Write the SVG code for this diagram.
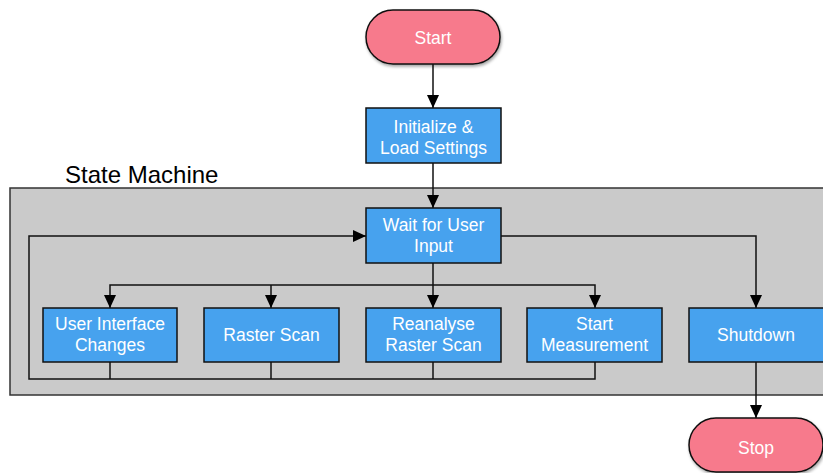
<svg xmlns="http://www.w3.org/2000/svg" width="823" height="473" viewBox="0 0 823 473">
  <style>
    .term { fill: #F77A8C; stroke: #111; stroke-width: 1.5; }
    .proc { fill: #47A2EE; stroke: #111; stroke-width: 1.5; }
    .group { fill: #CACACA; stroke: #333; stroke-width: 1.5; }
    .lbl { font-family: "Liberation Sans", Arial, sans-serif; font-size: 17.5px; fill: #fff; text-anchor: middle; }
    .title { font-family: "Liberation Sans", Arial, sans-serif; font-size: 24px; fill: #000; }
    .wire { fill: none; stroke: #111; stroke-width: 1.5; }
  </style>
  <defs>
    <marker id="arrow" viewBox="0 0 13 12" refX="13" refY="6" markerWidth="13" markerHeight="12" markerUnits="userSpaceOnUse" orient="auto">
      <path d="M0,0 L13,6 L0,12 Z" fill="#000"/>
    </marker>
    <filter id="shadow" x="-10%" y="-10%" width="130%" height="140%">
      <feDropShadow dx="1" dy="2" stdDeviation="1.5" flood-color="#000" flood-opacity="0.35"/>
    </filter>
  </defs>

  <rect width="823" height="473" fill="#fff"/>

  <!-- State machine container -->
  <g id="state-machine">
    <rect class="group" x="10" y="188" width="830" height="207"/>
    <text class="title" x="65" y="183">State Machine</text>
  </g>

  <!-- Connectors -->
  <g id="connectors">
    <line class="wire" x1="433" y1="64" x2="433" y2="108" marker-end="url(#arrow)"/>
    <line class="wire" x1="433" y1="163" x2="433" y2="208" marker-end="url(#arrow)"/>
    <!-- Wait -> fan-out to states -->
    <line class="wire" x1="433" y1="263" x2="433" y2="308" marker-end="url(#arrow)"/>
    <polyline class="wire" points="433,285 110,285 110,308" marker-end="url(#arrow)"/>
    <line class="wire" x1="271" y1="285" x2="271" y2="308" marker-end="url(#arrow)"/>
    <polyline class="wire" points="433,285 595,285 595,308" marker-end="url(#arrow)"/>
    <!-- Wait -> Shutdown -->
    <polyline class="wire" points="501,236 756,236 756,308" marker-end="url(#arrow)"/>
    <!-- Return loop back to Wait -->
    <line class="wire" x1="110" y1="362" x2="110" y2="379"/>
    <line class="wire" x1="271" y1="362" x2="271" y2="379"/>
    <line class="wire" x1="433" y1="362" x2="433" y2="379"/>
    <polyline class="wire" points="595,362 595,379 29,379 29,236 366,236" marker-end="url(#arrow)"/>
    <!-- Shutdown -> Stop -->
    <line class="wire" x1="756" y1="362" x2="756" y2="418" marker-end="url(#arrow)"/>
  </g>

  <g id="start">
    <rect class="term" x="366" y="10" width="134" height="54" rx="27" filter="url(#shadow)"/>
    <text class="lbl" x="433" y="44">Start</text>
  </g>

  <g id="init">
    <rect class="proc" x="366" y="108" width="135" height="55"/>
    <text class="lbl" x="433.5" y="133">Initialize &amp;</text>
    <text class="lbl" x="433.5" y="154">Load Settings</text>
  </g>

  <g id="wait">
    <rect class="proc" x="366" y="208" width="135" height="55"/>
    <text class="lbl" x="433.5" y="231">Wait for User</text>
    <text class="lbl" x="433.5" y="252">Input</text>
  </g>

  <g id="ui-changes">
    <rect class="proc" x="43" y="308" width="134" height="54"/>
    <text class="lbl" x="110" y="330">User Interface</text>
    <text class="lbl" x="110" y="351">Changes</text>
  </g>

  <g id="raster-scan">
    <rect class="proc" x="204" y="308" width="135" height="54"/>
    <text class="lbl" x="271.5" y="341">Raster Scan</text>
  </g>

  <g id="reanalyse">
    <rect class="proc" x="366" y="308" width="135" height="54"/>
    <text class="lbl" x="433.5" y="330">Reanalyse</text>
    <text class="lbl" x="433.5" y="351">Raster Scan</text>
  </g>

  <g id="start-measurement">
    <rect class="proc" x="527" y="308" width="135" height="54"/>
    <text class="lbl" x="594.5" y="330">Start</text>
    <text class="lbl" x="594.5" y="351">Measurement</text>
  </g>

  <g id="shutdown">
    <rect class="proc" x="689" y="308" width="140" height="54"/>
    <text class="lbl" x="756" y="341">Shutdown</text>
  </g>

  <g id="stop">
    <rect class="term" x="689" y="418" width="134" height="54" rx="27" filter="url(#shadow)"/>
    <text class="lbl" x="756" y="454">Stop</text>
  </g>
</svg>
